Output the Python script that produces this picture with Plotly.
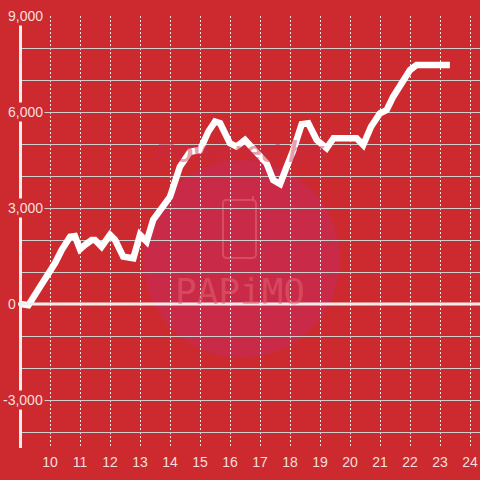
import plotly.graph_objects as go

# ---- data ----
hours = [9.0, 9.28, 9.6, 9.83, 10.0, 10.17, 10.39, 10.67, 10.83, 11.0, 11.17, 11.39, 11.5,
         11.72, 12.0, 12.17, 12.44, 12.78, 13.0, 13.22, 13.44, 13.72, 14.0, 14.33, 14.67,
         15.0, 15.28, 15.5, 15.67, 16.0, 16.22, 16.5, 16.89, 17.22, 17.44, 17.67, 17.89,
         18.11, 18.39, 18.61, 18.89, 19.22, 19.45, 19.89, 20.22, 20.44, 20.7, 21.0, 21.22,
         21.44, 21.78, 22.0, 22.22, 23.33]
values = [0, -40, 440, 760, 1000, 1280, 1690, 2100, 2120, 1710, 1850, 2000, 2000,
          1790, 2160, 2000, 1480, 1430, 2160, 1950, 2630, 2990, 3350, 4290, 4760,
          4810, 5390, 5700, 5650, 5020, 4920, 5125, 4710, 4400, 3875, 3750, 4290,
          4810, 5620, 5650, 5125, 4865, 5180, 5180, 5180, 4970, 5540, 5960, 6060,
          6480, 6950, 7310, 7470, 7470]
x_ticks = list(range(10, 25))
y_label_vals = [9000, 6000, 3000, 0, -3000]
y_label_text = ["9,000", "6,000", "3,000", "0", "-3,000"]

BG = "#cc2a2e"
LABEL = "rgba(255,255,255,0.86)"
FONT = "Liberation Sans, Arial, sans-serif"

fig = go.Figure()
fig.add_trace(go.Scatter(x=hours, y=values, mode="lines",
                         line=dict(color="white", width=6.5), hoverinfo="skip"))

# plot area: x 20..480, y 16..448
W, H = 460.0, 432.0
def px_x(p):
    return (p - 20) / W
def px_y(p):
    return (448 - p) / H

shapes = [
    dict(type="circle", xref="paper", yref="paper", layer="below",
         x0=px_x(143), x1=px_x(340), y0=px_y(358), y1=px_y(160),
         fillcolor="#c92a47", line=dict(width=0)),
    dict(type="path", xref="paper", yref="paper", layer="below",
         path=(f"M {px_x(226)},{px_y(200)} L {px_x(252)},{px_y(200)} "
               f"Q {px_x(256)},{px_y(200)} {px_x(256)},{px_y(204)} "
               f"L {px_x(256)},{px_y(254)} Q {px_x(256)},{px_y(258)} {px_x(252)},{px_y(258)} "
               f"L {px_x(227)},{px_y(258)} Q {px_x(223)},{px_y(258)} {px_x(223)},{px_y(254)} "
               f"L {px_x(223)},{px_y(204)} Q {px_x(223)},{px_y(200)} {px_x(226)},{px_y(200)} Z"),
         line=dict(color="rgba(225,100,115,0.6)", width=2)),
    dict(type="line", xref="paper", yref="paper", layer="below",
         x0=px_x(253), x1=px_x(253), y0=px_y(200), y1=px_y(196),
         line=dict(color="rgba(225,100,115,0.6)", width=2)),
    dict(type="line", xref="paper", yref="y", x0=px_x(18), x1=1, y0=0, y1=0,
         line=dict(color="#f2eeee", width=3)),
    dict(type="line", xref="paper", yref="paper", x0=px_x(20.5), x1=px_x(20.5), y0=0, y1=1,
         line=dict(color="#f2eeee", width=3)),
]

annotations = []
for v, t in zip(y_label_vals, y_label_text):
    right = 18 if v == 0 else 45
    annotations.append(dict(x=px_x(right), xref="paper", y=v, yref="y", text=t,
                            showarrow=False, xanchor="right", yanchor="middle",
                            bgcolor=BG, borderpad=1,
                            font=dict(family=FONT, size=14, color=LABEL)))
annotations.append(dict(x=px_x(240), xref="paper", y=px_y(291), yref="paper",
                        text="PAPiMO", showarrow=False,
                        font=dict(family="DejaVu Sans Mono", size=36,
                                  color="rgba(225,100,115,0.55)")))
annotations.append(dict(x=px_x(240), xref="paper", y=px_y(133), yref="paper",
                        text="<b><i>Powered by</i></b>", showarrow=False,
                        font=dict(family=FONT, size=30, color="rgba(200,40,75,0.45)")))

fig.update_layout(
    width=480, height=480,
    margin=dict(l=20, r=0, t=16, b=32),
    paper_bgcolor=BG, plot_bgcolor=BG,
    showlegend=False,
    shapes=shapes, annotations=annotations,
    xaxis=dict(range=[9, 24 + 1/3], tickvals=x_ticks, ticktext=[str(t) for t in x_ticks],
               showgrid=True, gridcolor="#ececec", gridwidth=1, griddash="2px,2px",
               zeroline=False, showline=False, ticks="",
               tickfont=dict(family=FONT, size=14, color=LABEL),
               ticklabelstandoff=4, fixedrange=True),
    yaxis=dict(range=[-4500, 9000], dtick=1000, tick0=0, showticklabels=False,
               showgrid=True, gridcolor="#cfcfcf", gridwidth=1,
               zeroline=False, showline=False, ticks="", fixedrange=True),
)

fig.write_html("out.html", config={"displayModeBar": False, "staticPlot": True})

# remove the browser's default page margin so the figure sits at (0, 0)
with open("out.html", "r", encoding="utf-8") as f:
    html = f.read()
html = html.replace("<head>", "<head><style>html,body{margin:0;padding:0;overflow:hidden;}</style>", 1)
with open("out.html", "w", encoding="utf-8") as f:
    f.write(html)
